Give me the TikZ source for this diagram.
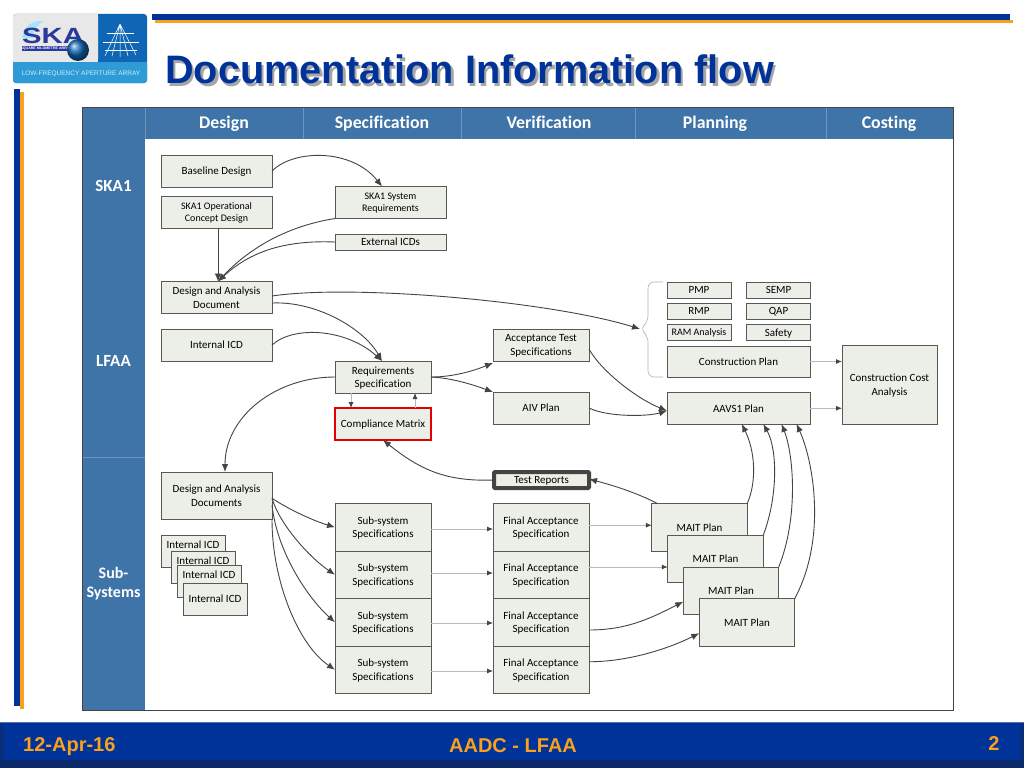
\documentclass[tikz,border=0pt]{standalone}
\usepackage{fontspec}
\setmainfont{Carlito}[Ligatures=NoCommon]
\newfontfamily\arialfont{Liberation Sans}
\usepackage{xcolor}
\usetikzlibrary{arrows.meta}
\definecolor{skablue}{HTML}{003399}
\definecolor{skaorange}{HTML}{F9A11B}
\definecolor{bandblue}{HTML}{3F74A8}
\definecolor{boxfill}{HTML}{ECEFE8}
\definecolor{boxline}{HTML}{555A55}
\definecolor{arrowgrey}{HTML}{444444}
\definecolor{footdark}{HTML}{0B2A6B}
\definecolor{logoblue}{HTML}{0F66B4}
\definecolor{logosky}{HTML}{2E9BD6}
\definecolor{logoink}{HTML}{2A3A9C}

\begin{document}
\begin{tikzpicture}[x=1pt, y=-1pt, font=\fontsize{11}{13.5}\selectfont,
    box/.style={draw=boxline, line width=0.9pt, fill=boxfill, inner sep=0pt, outer sep=0pt, align=center, text depth=0pt},
    docbox/.style={box, minimum width=111, minimum height=32},
    specbox/.style={box, minimum width=96, minimum height=32},
    rowbox/.style={box, minimum width=96, minimum height=47.5},
    planbox/.style={box, minimum width=64, minimum height=16},
    stackbox/.style={box, minimum width=64, text height=13.5, text depth=18.5},
    maitbox/.style={box, minimum width=95.5, minimum height=47.5},
    small/.style={font=\fontsize{10}{12}\selectfont},
    head/.style={font=\fontsize{17.8}{20}\selectfont\bfseries, text=white, text height=11, text depth=3},
    side/.style={font=\fontsize{17}{19}\selectfont\bfseries, text=white, text height=11, text depth=3},
    titletext/.style={font=\arialfont\fontsize{39.7}{44}\selectfont\bfseries, anchor=west, inner sep=0pt},
    conn/.style={draw=arrowgrey, line width=0.9pt, -{Latex[length=8pt,width=6.5pt]}},
    flow/.style={draw=gray!55, line width=0.8pt, -{Latex[length=6pt,width=5pt,color=arrowgrey,fill=arrowgrey]}},
    foot/.style={font=\arialfont\fontsize{20}{22}\selectfont\bfseries, text=skaorange, inner sep=0pt}]
\useasboundingbox (0,0) rectangle (1024,768);
% Slide frame
\fill[skablue] (152,14) rectangle (1010,20);
\fill[skaorange] (155,20) rectangle (1013,23);
\fill[skaorange] (20,92) rectangle (24,709);
\fill[skablue] (14,89) rectangle (20,706);
% Logo
\fill[logoblue, rounded corners=3pt] (13,14) rectangle (147,83);
\fill[gray!18, rounded corners=3pt] (13,14) rectangle (98,62);
\fill[gray!18] (90,14) rectangle (98,62);
\fill[gray!18] (13,50) rectangle (30,62);
\fill[logosky, rounded corners=3pt] (13,62) rectangle (147,83);
\fill[logosky] (13,62) rectangle (147,70);
\fill[cyan!35] (22,38) .. controls (24,26) and (32,20) .. (44,21) .. controls (36,26) and (32,32) .. (34,38) -- cycle;
\draw[white, line width=0.5pt] (120,24) -- (105,56) (120,24) -- (112,56) (120,24) -- (120,57) (120,24) -- (128,56) (120,24) -- (136,55);
\draw[white, line width=0.4pt] (103,42) -- (139,42) (107,33) -- (134,33) (105,50) -- (137,50);
\node[font=\arialfont\fontsize{22}{22}\selectfont\bfseries, text=logoink, xscale=1.33, inner sep=0pt] (skaword) at (53,36) {SKA};
\fill[logoink] (22,46) rectangle (71,51);
\node[font=\arialfont\fontsize{3.6}{4}\selectfont\bfseries, text=white, inner sep=0pt] (skasub) at (46,48.5) {SQUARE KILOMETRE ARRAY};
\shade[ball color=logoblue] (78,50) circle (11);
\node[font=\arialfont\fontsize{6.5}{8}\selectfont, text=white!80!cyan, inner sep=0pt] (logotext) at (81,74) {LOW-FREQUENCY APERTURE ARRAY};
% Title
\node[titletext, text=gray!70] (titleshadow) at (167.5,72) {Documentation Information flow};
\node[titletext, text=skablue] (title) at (165,69.5) {Documentation Information flow};
% Table
\fill[white] (82,107) rectangle (953,710);
\fill[bandblue] (82,107) rectangle (145,710);
\fill[bandblue] (145,107) rectangle (953,139);
\draw[white!25!bandblue, line width=0.5pt] (303,107) -- (303,139) (461,107) -- (461,139) (635,107) -- (635,139) (826,107) -- (826,139) (145,107) -- (145,139) (82,457) -- (145,457);
\draw[arrowgrey, line width=1pt] (82,107) rectangle (953,710);
\node[head] (design) at (224,124.5) {Design};
\node[head] (specification) at (382,124.5) {Specification};
\node[head] (verification) at (549,124.5) {Verification};
\node[head] (planning) at (715,124.5) {Planning};
\node[head] (costing) at (889,124.5) {Costing};
\node[side] (ska) at (113.5,187.5) {SKA1};
\node[side] (lfaa) at (113.5,362.5) {LFAA};
\node[font=\fontsize{16}{19}\selectfont\bfseries, text=white, align=center] (subsys) at (113.5,583.5) {Sub-\\Systems};
% SKA1 row
\node[docbox] (baseline) at (216.5,171) {Baseline Design};
\node[docbox, small] (opconcept) at (216.5,212) {SKA1 Operational\\Concept Design};
\node[docbox, small] (sysreq) at (390.5,202.5) {SKA1 System\\Requirements};
\node[docbox, minimum height=16] (exticd) at (390.5,242) {External ICDs};
% LFAA row
\node[docbox] (dadoc) at (216.5,297.5) {Design and Analysis\\Document};
\node[docbox] (inticd) at (216.5,345) {Internal ICD};
\node[specbox] (reqspec) at (383,377) {Requirements\\Specification};
\node[specbox, draw=red!90!black, line width=1.5pt] (compliance) at (383,424) {Compliance Matrix};
\node[specbox] (acctest) at (541,345) {Acceptance Test\\Specifications};
\node[specbox] (aiv) at (541,408) {AIV Plan};
\node[box, draw=arrowgrey, line width=4pt, rounded corners=1pt, minimum width=95, minimum height=16] (testrep) at (541.5,480) {Test Reports};
\node[planbox] (pmp) at (699,290) {PMP};
\node[planbox] (semp) at (778.5,290) {SEMP};
\node[planbox] (rmp) at (699,311) {RMP};
\node[planbox] (qap) at (778.5,311) {QAP};
\node[planbox, small] (ram) at (699,332.5) {RAM Analysis};
\node[planbox] (safety) at (778.5,332.5) {Safety};
\node[box, minimum width=143, minimum height=31] (conplan) at (738.5,361.5) {Construction Plan};
\node[box, minimum width=143, minimum height=31.5] (aavs) at (738.5,408.25) {AAVS1 Plan};
\node[box, minimum width=95, minimum height=79] (cost) at (889.5,384.5) {Construction Cost\\Analysis};
\coordinate (bracetip) at (640,329);
\draw[gray!60, line width=0.6pt, rounded corners=6pt] (663,282) -- (648,282) -- (648,322) -- (bracetip) -- (648,336) -- (648,377) -- (663,377);
% Sub-systems row
\node[docbox, minimum height=47.5] (dadocs) at (216.5,495.75) {Design and Analysis\\Documents};
\node[stackbox] (icda) at (193,551) {Internal ICD};
\node[stackbox] (icdb) at (203,567) {Internal ICD};
\node[stackbox] (icdc) at (209,581) {Internal ICD};
\node[box, minimum width=64, minimum height=32] (icdd) at (215,599) {Internal ICD};
\node[rowbox] (suba) at (383,527.25) {Sub-system\\Specifications};
\node[rowbox] (subb) at (383,574.75) {Sub-system\\Specifications};
\node[rowbox] (subc) at (383,622.25) {Sub-system\\Specifications};
\node[rowbox] (subd) at (383,669.75) {Sub-system\\Specifications};
\node[rowbox] (fina) at (541,527.25) {Final Acceptance\\Specification};
\node[rowbox] (finb) at (541,574.75) {Final Acceptance\\Specification};
\node[rowbox] (finc) at (541,622.25) {Final Acceptance\\Specification};
\node[rowbox] (find) at (541,669.75) {Final Acceptance\\Specification};
\node[maitbox] (maita) at (699.5,527.25) {MAIT Plan};
\node[maitbox] (maitb) at (715.5,559) {MAIT Plan};
\node[maitbox] (maitc) at (731,590.75) {MAIT Plan};
\node[maitbox] (maitd) at (747,622.25) {MAIT Plan};
% Connectors
\draw[conn] (baseline.east) .. controls +(22,-22) and +(-30,-38) .. ([xshift=-8.5pt]sysreq.north);
\draw[conn] ([xshift=-55.5pt]sysreq.south) .. controls +(-50,8) and +(30,-32) .. ([xshift=1.5pt]dadoc.north);
\draw[conn] (exticd.west) .. controls +(-50,-2) and +(32,-30) .. ([xshift=1.5pt]dadoc.north);
\draw[conn] ([xshift=1.5pt]opconcept.south) -- ([xshift=1.5pt]dadoc.north);
\draw[conn] ([yshift=1.5pt]dadoc.east) .. controls +(80,-12) and +(-90,-28) .. (bracetip);
\draw[conn] ([yshift=-5.5pt]dadoc.east) .. controls +(45,-2) and +(-18,-32) .. ([xshift=-1pt]reqspec.north);
\draw[conn] (inticd.east) .. controls +(22,-20) and +(-35,-32) .. ([xshift=-1pt]reqspec.north);
\draw[conn] (reqspec.west) .. controls +(-60,0) and +(0,-55) .. ([xshift=8.5pt]dadocs.north);
\draw[conn] (reqspec.east) .. controls +(22,0) and +(-20,8) .. ([yshift=-2pt]acctest.south west);
\draw[conn] (reqspec.east) .. controls +(20,1) and +(-22,-8) .. (aiv.north west);
\draw[flow] ([xshift=-32pt]reqspec.south) -- ([xshift=-32pt]compliance.north);
\draw[flow] ([xshift=32pt]compliance.north) -- ([xshift=32pt]reqspec.south);
\draw[conn] (testrep.west) .. controls +(-50,2) and +(35,28) .. (compliance.south);
\draw[conn] ([xshift=-42pt]maita.north) .. controls +(-20,-10) and +(30,8) .. ([yshift=1pt]testrep.east);
\draw[conn] ([yshift=-4pt]acctest.east) .. controls +(12,22) and +(-30,-12) .. ([yshift=-2.5pt]aavs.west);
\draw[conn] (aiv.east) .. controls +(18,9) and +(-20,6) .. ([yshift=-2.5pt]aavs.west);
\draw[flow] (conplan.east) -- (conplan.east -| cost.west);
\draw[flow] (aavs.east) -- (aavs.east -| cost.west);
\draw[conn] (maita.north east) .. controls +(10,-23) and +(13,26) .. ([xshift=3.2pt]aavs.south);
\draw[conn] (maitb.north east) .. controls +(15,-40) and +(14,25) .. ([xshift=24.8pt]aavs.south);
\draw[conn] (maitc.north east) .. controls +(20,-50) and +(12,30) .. ([xshift=43pt]aavs.south);
\draw[conn] (maitd.north east) .. controls +(33,-62) and +(16,35) .. ([xshift=58pt]aavs.south);
\draw[conn] ([yshift=-2.5pt]dadocs.east) .. controls +(18,12) and +(-20,-6) .. (suba.west);
\draw[conn] ([yshift=-2.5pt]dadocs.east) .. controls +(8,27) and +(-25,-17) .. (subb.west);
\draw[conn] ([yshift=-9.25pt]dadocs.east) .. controls +(5,47) and +(-27,-24) .. (subc.west);
\draw[conn] (dadocs.south east) .. controls +(0,61) and +(-37,-25) .. (subd.west);
\draw[flow] ([yshift=-1.75pt]suba.east) -- ([yshift=-1.75pt]fina.west);
\draw[flow] ([yshift=1.75pt]subb.east) -- ([yshift=1.75pt]finb.west);
\draw[flow] ([yshift=-0.75pt]subc.east) -- ([yshift=-0.75pt]finc.west);
\draw[flow] ([yshift=-1.25pt]subd.east) -- ([yshift=-1.25pt]find.west);
\draw[flow] ([yshift=2pt]fina.east) -- ([yshift=2pt]fina.east -| maita.west);
\draw[flow] ([yshift=7.75pt]finb.east) -- ([yshift=7.75pt]finb.east -| maitb.west);
\draw[conn] ([yshift=-7.75pt]finc.east) .. controls +(40,0) and +(-30,15) .. ([yshift=-11pt]maitc.west);
\draw[conn] ([yshift=8pt]find.east) .. controls +(40,0) and +(-30,15) .. ([yshift=-11pt]maitd.west);
% Footer
\fill[skablue] (0,722) rectangle (1024,768);
\fill[footdark] (0,760) rectangle (1024,768);
\fill[footdark!70!skablue] (0,722) -- (4,726) -- (4,758) -- (0,764) -- cycle (1024,722) -- (1020,726) -- (1020,758) -- (1024,764) -- cycle;
\draw[cyan!40!blue!70!gray, line width=1pt] (0,722.5) -- (1024,722.5);
\node[foot, anchor=west] (date) at (23,747) {12-Apr-16};
\node[foot] (event) at (513,745.5) {AADC - LFAA};
\node[foot] (pagenum) at (994,744) {2};
\end{tikzpicture}
\end{document}
